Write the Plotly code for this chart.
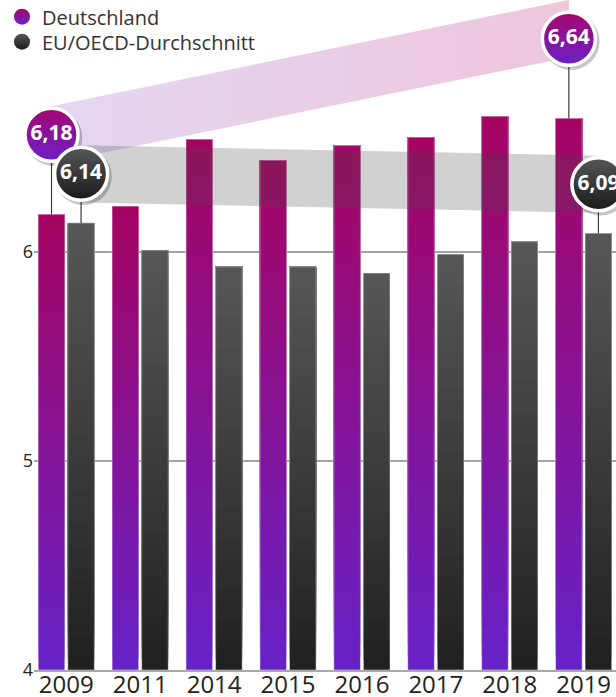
import plotly.graph_objects as go

# ---------------- data ----------------
years = ['2009', '2011', '2014', '2015', '2016', '2017', '2018', '2019']
deutschland = [6.18, 6.22, 6.54, 6.44, 6.51, 6.55, 6.65, 6.64]
eu_oecd = [6.14, 6.01, 5.93, 5.93, 5.90, 5.99, 6.05, 6.09]
series_names = ['Deutschland', 'EU/OECD-Durchschnitt']
y_ticks = [4, 5, 6]

# ---------------- style ----------------
Y_MIN, Y_MAX = 4, 7.207
X_MIN, X_MAX = -0.437, 7.438
BAR_W = 0.36
OFFS = [-0.2, 0.2]
BAR_GRAD = [('#6622c8', '#a60462'), ('#202020', '#575757')]     # bottom, top
BUBBLE_COL = [('#a5076f', '#6a20c8'), ('#575757', '#1a1a1a')]   # top, bottom
BUBBLE_LIFT = [0.382, 0.235]
BAND_LIFT_END = [0.43, 0.235]
BAND_HALF = 0.137
N_SEG = 40
FONT = 'Open Sans'
W, H = 616, 697
LEGEND_Y_PX = [16.7, 41.7]


def hex_to_rgb(h):
    h = h.lstrip('#')
    return tuple(int(h[i:i + 2], 16) for i in (0, 2, 4))


def lerp_color(c0, c1, t):
    a, b = hex_to_rgb(c0), hex_to_rgb(c1)
    r = [round(a[i] + (b[i] - a[i]) * t) for i in range(3)]
    return f'rgb({r[0]},{r[1]},{r[2]})'


def fmt(v):
    return f'{v:.2f}'.replace('.', ',')


fig = go.Figure()
x_idx = list(range(len(years)))
all_vals = [deutschland, eu_oecd]

# ---------------- gradient bars ----------------
for s, vals in enumerate(all_vals):
    xs = [i + OFFS[s] for i in x_idx]
    for k in range(N_SEG):
        t = k / N_SEG
        base = [Y_MIN + (v - Y_MIN) * t for v in vals]
        h = [v - b for v, b in zip(vals, base)]
        fig.add_bar(
            x=xs, y=h, base=base, width=BAR_W,
            marker=dict(color=lerp_color(BAR_GRAD[s][0], BAR_GRAD[s][1], (k + 0.5) / N_SEG),
                        line=dict(width=0)),
            showlegend=False, hoverinfo='skip')
    # thin light outline
    fig.add_bar(
        x=xs, y=[v - Y_MIN for v in vals], base=Y_MIN, width=BAR_W,
        marker=dict(color='rgba(0,0,0,0)', line=dict(color='rgba(255,255,255,0.45)', width=1)),
        showlegend=False, hoverinfo='skip')

# ---------------- bands linking first and last bubbles ----------------
first, last = x_idx[0], x_idx[-1]
for s, vals in enumerate(all_vals):
    x0, x1 = first + OFFS[s], last + OFFS[s]
    y0 = vals[0] + BUBBLE_LIFT[s]
    y1 = vals[-1] + BAND_LIFT_END[s]
    bx = [x0, x1, x1, x0, x0]
    by = [y0 + BAND_HALF, y1 + BAND_HALF, y1 - BAND_HALF, y0 - BAND_HALF, y0 + BAND_HALF]
    if s == 0:
        fig.add_scatter(x=bx, y=by, mode='lines', fill='toself', line=dict(width=0),
                        fillgradient=dict(type='horizontal',
                                          colorscale=[[0, '#e3d6f2'], [1, '#efc6dc']]),
                        showlegend=False, hoverinfo='skip')
    else:
        fig.add_scatter(x=bx, y=by, mode='lines', fill='toself', line=dict(width=0),
                        fillcolor='rgba(70,70,70,0.25)',
                        showlegend=False, hoverinfo='skip')

# ---------------- connector lines ----------------
for s, vals in enumerate(all_vals):
    lx, ly = [], []
    for i in (first, last):
        lx += [i + OFFS[s], i + OFFS[s], None]
        ly += [vals[i], vals[i] + BUBBLE_LIFT[s], None]
    fig.add_scatter(x=lx, y=ly, mode='lines', line=dict(color='#3a3a3a', width=1.2),
                    showlegend=False, hoverinfo='skip')

# ---------------- bubbles ----------------
for s, vals in enumerate(all_vals):
    bx = [i + OFFS[s] for i in (first, last)]
    by = [vals[i] + BUBBLE_LIFT[s] for i in (first, last)]
    # shadow
    fig.add_scatter(x=[x + 0.03 for x in bx], y=[y - 0.013 for y in by], mode='markers',
                    marker=dict(size=57, color='rgba(0,0,0,0.22)', line=dict(width=0)),
                    cliponaxis=False, showlegend=False, hoverinfo='skip')
    fig.add_scatter(x=bx, y=by, mode='markers+text',
                    text=[fmt(vals[i]) for i in (first, last)],
                    textposition='middle center',
                    textfont=dict(family=FONT, size=21, color='white', weight=700),
                    marker=dict(size=53, color=BUBBLE_COL[s][0],
                                gradient=dict(type='vertical', color=BUBBLE_COL[s][1]),
                                line=dict(color='white', width=3.5)),
                    cliponaxis=False, showlegend=False, hoverinfo='skip')

# ---------------- legend entries (one legend per entry for exact placement) ----------------
legend_ids = ['legend', 'legend2']
for s, name in enumerate(series_names):
    fig.add_scatter(x=[None], y=[None], mode='markers', name=name, legend=legend_ids[s],
                    marker=dict(size=16, color=BUBBLE_COL[s][0],
                                gradient=dict(type='vertical', color=BUBBLE_COL[s][1])))

legend_common = dict(xref='container', yref='container', x=2 / W, xanchor='left',
                     yanchor='middle', bgcolor='rgba(0,0,0,0)',
                     font=dict(family=FONT, size=20, color='#333333'), itemsizing='trace')

fig.update_layout(
    width=W, height=H,
    margin=dict(l=34, r=0, t=0, b=27, autoexpand=False),
    paper_bgcolor='white', plot_bgcolor='white',
    barmode='overlay',
    font=dict(family=FONT, color='#222222'),
    showlegend=True,
    legend=dict(legend_common, y=1 - LEGEND_Y_PX[0] / H),
    legend2=dict(legend_common, y=1 - LEGEND_Y_PX[1] / H),
    xaxis=dict(range=[X_MIN, X_MAX], tickmode='array', tickvals=x_idx, ticktext=years,
               showgrid=False, zeroline=False, showline=True, linecolor='#a8a8a8', linewidth=2,
               ticks='', tickangle=0, ticklabelstandoff=-8,
               tickfont=dict(size=24, color='#222222')),
    yaxis=dict(range=[Y_MIN, Y_MAX], tickmode='array', tickvals=y_ticks,
               showgrid=True, gridcolor='#a3a3a3', gridwidth=1.5, zeroline=False, showline=False,
               ticks='', tickfont=dict(size=18, color='#222222')),
)

fig.write_html('out.html', config={'displayModeBar': False},
               post_script="document.body.style.margin='0px';")
